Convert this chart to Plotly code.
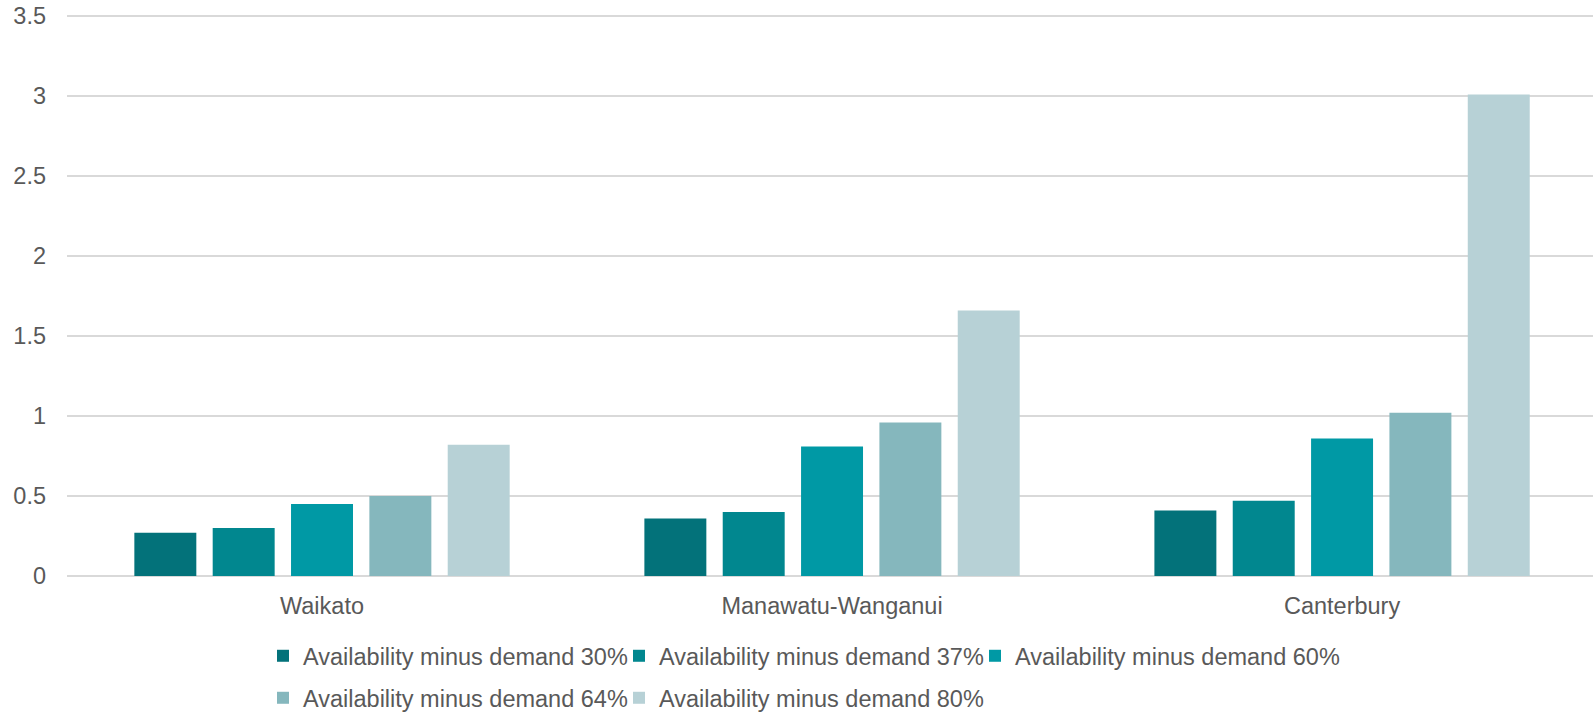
import plotly.graph_objects as go

# Regions on the category axis
regions = ["Waikato", "Manawatu-Wanganui", "Canterbury"]

# Availability minus demand, one series per threshold
series_names = [
    "Availability minus demand 30%",
    "Availability minus demand 37%",
    "Availability minus demand 60%",
    "Availability minus demand 64%",
    "Availability minus demand 80%",
]
vals_30 = [0.27, 0.36, 0.41]
vals_37 = [0.30, 0.40, 0.47]
vals_60 = [0.45, 0.81, 0.86]
vals_64 = [0.50, 0.96, 1.02]
vals_80 = [0.82, 1.66, 3.01]
series_values = [vals_30, vals_37, vals_60, vals_64, vals_80]

colors = ["#03727A", "#01878F", "#0099A5", "#85B7BD", "#B7D1D6"]

y_ticks = [0, 0.5, 1, 1.5, 2, 2.5, 3, 3.5]
y_tick_text = ["0", "0.5", "1", "1.5", "2", "2.5", "3", "3.5"]

FONT = "Arial, 'Liberation Sans', sans-serif"
TEXT_COLOR = "#595959"
GRID_COLOR = "#D9D9D9"
FS = 23.5

W, H = 1593, 712
ml, mr, mt, mb = 67, 0, 13, 136
plot_w = W - ml - mr
plot_h = H - mt - mb

# legend entries laid out in two rows of three and two (text start x, row centre y)
legend_slots = [(303, 656), (659, 656), (1015, 656), (303, 698), (659, 698)]
legend_ids = ["legend", "legend2", "legend3", "legend4", "legend5"]

fig = go.Figure()
for name, vals, col, lg in zip(series_names, series_values, colors, legend_ids):
    fig.add_trace(go.Bar(
        x=regions, y=vals, name=name,
        marker=dict(color=col, line=dict(width=0)),
        legend=lg,
    ))

legend_layout = {}
for lg, (tx, ty) in zip(legend_ids, legend_slots):
    legend_layout[lg] = dict(
        orientation="h",
        x=(tx - 40 - ml) / plot_w,
        xanchor="left",
        y=(H - mb - ty) / plot_h,
        yanchor="middle",
        font=dict(family=FONT, size=FS, color=TEXT_COLOR),
        itemwidth=30,
        bgcolor="rgba(0,0,0,0)",
        borderwidth=0,
    )

fig.update_layout(
    width=W, height=H,
    margin=dict(l=ml, r=mr, t=mt, b=mb, autoexpand=False),
    paper_bgcolor="white",
    plot_bgcolor="white",
    barmode="group",
    bargap=0.232,
    bargroupgap=0.209,
    font=dict(family=FONT, size=FS, color=TEXT_COLOR),
    showlegend=True,
    xaxis=dict(
        range=[-0.5, 2.492],
        showgrid=False, showline=False, ticks="",
        tickfont=dict(family=FONT, size=FS, color=TEXT_COLOR),
        ticklabelstandoff=13,
    ),
    yaxis=dict(
        # a little headroom so the 3.5 gridline is drawn inside the plot area
        range=[0, 3.51875],
        tickvals=y_ticks, ticktext=y_tick_text,
        showgrid=True, gridcolor=GRID_COLOR, gridwidth=1.5,
        zeroline=True, zerolinecolor=GRID_COLOR, zerolinewidth=1.5,
        showline=False, ticks="",
        tickfont=dict(family=FONT, size=FS, color=TEXT_COLOR),
        ticklabelstandoff=20,
    ),
    **legend_layout,
)

fig.write_html("out.html")
